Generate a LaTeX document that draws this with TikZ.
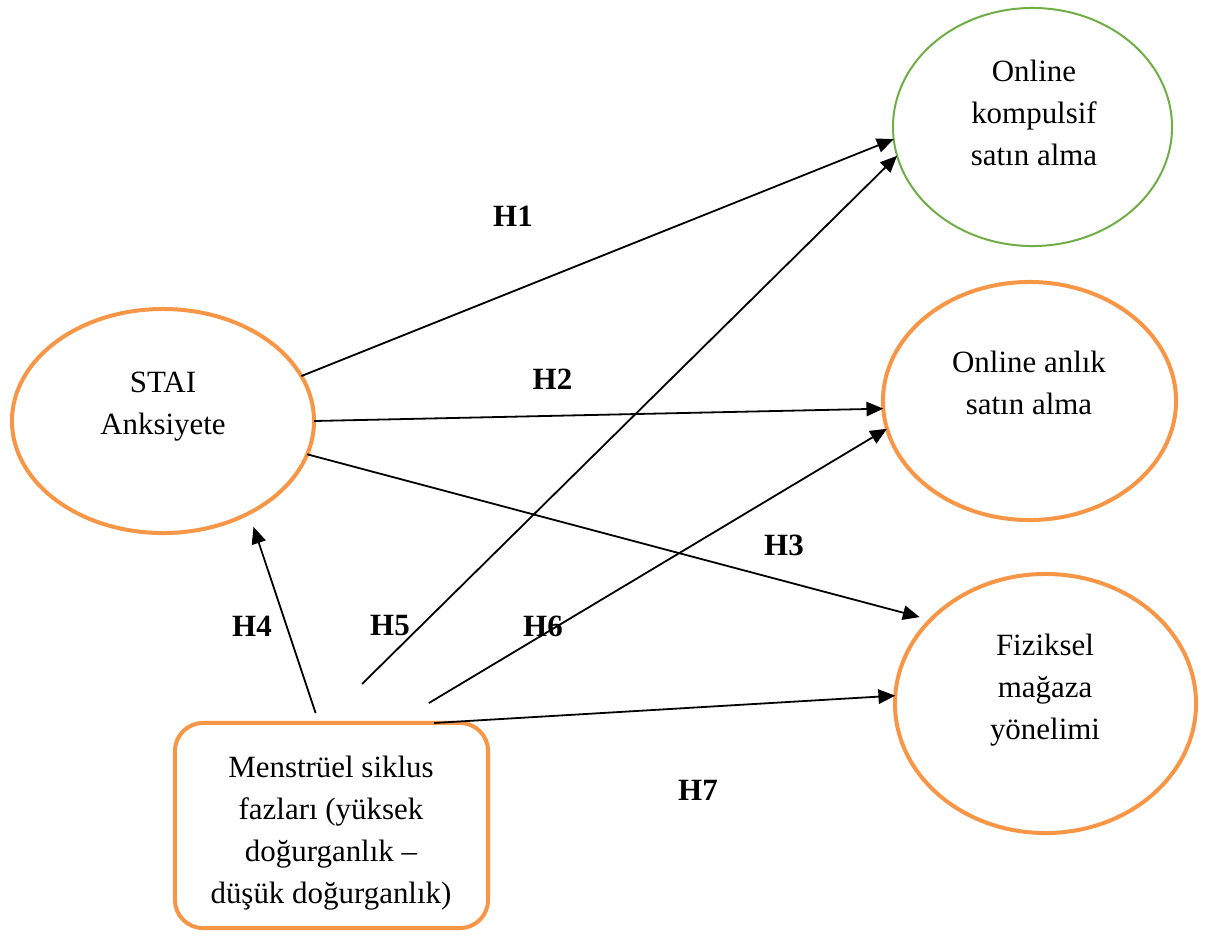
\documentclass[tikz,border=0pt]{standalone}
\usepackage{fontspec}
\setmainfont{Liberation Serif}
\usetikzlibrary{shapes.geometric,arrows.meta}
\definecolor{accorange}{HTML}{F79646}
\definecolor{accgreen}{HTML}{70AD47}

\begin{document}
\begin{tikzpicture}[
  x=0.025cm, y=-0.025cm,
  every node/.style = {font=\fontsize{22}{29.9}\selectfont},
  factor/.style = {shape=ellipse, draw=accorange, line width=0.1cm,
    outer sep=0pt, inner sep=0pt},
  phase/.style = {shape=rectangle, rounded corners=0.7cm, draw=accorange,
    line width=0.1cm, outer sep=0pt},
  txt/.style = {align=center},
  hyp/.style = {font=\fontsize{22}{29.9}\selectfont\bfseries},
  link/.style = {line width=0.045cm, -{Triangle[length=0.42cm, width=0.36cm]}}
  ]
  \useasboundingbox (0,0) rectangle (1210,936);

  % variables
  \node[factor, minimum width=7.55cm, minimum height=5.6cm] (stai) at (163,421) {};
  \node[factor, draw=accgreen, line width=0.05cm,
    minimum width=6.975cm, minimum height=5.95cm] (kompulsif) at (1032.5,127) {};
  \node[factor, minimum width=7.325cm, minimum height=5.95cm] (anlik) at (1029.5,401) {};
  \node[factor, minimum width=7.525cm, minimum height=6.475cm] (fiziksel) at (1045.5,703.5) {};
  \node[phase, minimum width=7.825cm, minimum height=5.125cm] (siklus) at (331.5,825.5) {};

  \node[txt] (stai-t) at (163,407) {STAI\\Anksiyete};
  \node[txt] (kompulsif-t) at (1034,113.3) {Online\\kompulsif\\satın alma};
  \node[txt] (anlik-t) at (1029,383.3) {Online anlık\\satın alma};
  \node[txt] (fiziksel-t) at (1045,689.8) {Fiziksel\\mağaza\\yönelimi};
  \node[txt] (siklus-t) at (331,832.8)
    {Menstrüel siklus\\fazları (yüksek\\doğurganlık \textendash\\düşük doğurganlık)};

  % hypotheses
  \draw[link] (stai.18.8) -- (kompulsif.185.7);
  \draw[link] (stai.-0.8) -- (anlik.183.2);
  \draw[link, shorten >=0.28cm] (stai.-13.9) -- (fiziksel.144.8);
  \draw[link, shorten <=0.26cm, shorten >=0.36cm] (siklus.97.8) -- (stai.-47.9);
  \draw[link, shorten <=1.39cm] (siklus.95.1) -- (kompulsif.192.8);
  \draw[link, shorten <=0.97cm] (siklus.58.3) -- (anlik.191.1);
  \draw[link] (siklus.45) -- (fiziksel.177.4);

  \node[hyp] (h1) at (513,216) {H1};
  \node[hyp] (h2) at (552.5,379) {H2};
  \node[hyp] (h3) at (784,545) {H3};
  \node[hyp] (h4) at (252,626) {H4};
  \node[hyp] (h5) at (390,626) {H5};
  \node[hyp] (h6) at (543,626) {H6};
  \node[hyp] (h7) at (698,790) {H7};
\end{tikzpicture}
\end{document}
